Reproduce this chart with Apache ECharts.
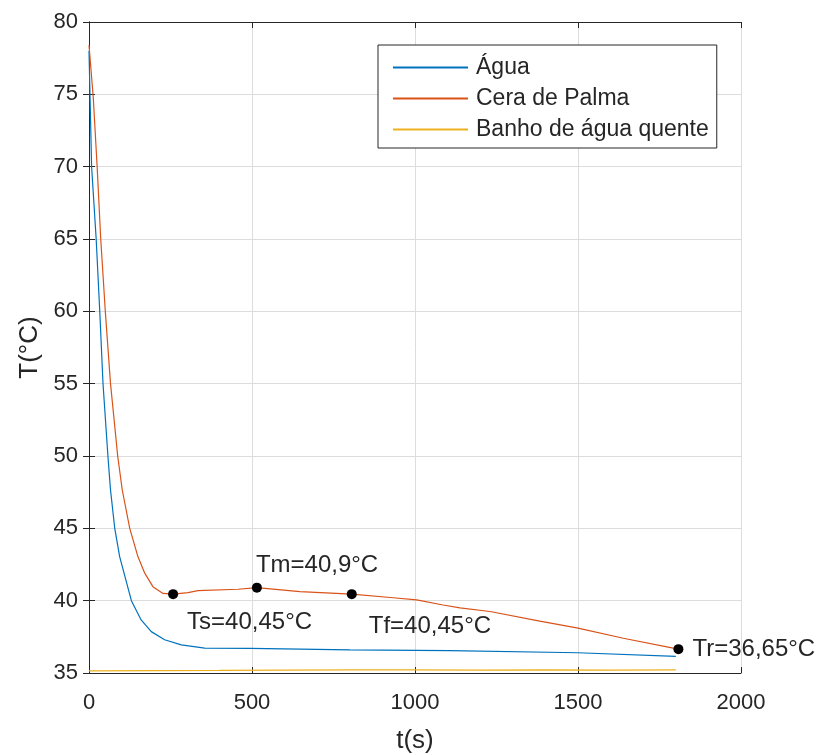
<!DOCTYPE html>
<html>
<head>
<meta charset="utf-8">
<script src="https://cdn.jsdelivr.net/npm/echarts@6/dist/echarts.min.js"></script>
<style>html,body{margin:0;padding:0;background:#fff}#c{width:821px;height:755px}</style>
</head>
<body>
<div id="c"></div>
<script>
// ---- data ----
const seriesNames = ['Água', 'Cera de Palma', 'Banho de água quente'];
const tAgua = [0, 3, 8, 22, 33, 43, 58, 66, 79, 94, 130, 160, 191, 232, 283, 355, 494, 800, 1107, 1500, 1800];
const TAgua = [78.0, 75.0, 70.0, 65.0, 60.0, 55.0, 50.0, 47.65, 45.0, 43.05, 40.0, 38.67, 37.86, 37.3, 36.94, 36.72, 36.7, 36.6, 36.55, 36.4, 36.15];
const tCera = [0, 13, 25, 36, 50, 66, 88, 102, 125, 150, 171, 196, 227, 258, 304, 334, 457, 515, 647, 806, 933, 1005, 1086, 1138, 1230, 1383, 1500, 1639, 1792, 1808];
const TCera = [78.4, 74.8, 70.0, 65.0, 60.0, 55.0, 50.0, 47.65, 45.0, 43.05, 41.9, 40.97, 40.5, 40.45, 40.56, 40.7, 40.79, 40.9, 40.63, 40.45, 40.2, 40.06, 39.7, 39.5, 39.25, 38.58, 38.1, 37.4, 36.72, 36.65];
const tBanho = [0, 200, 400, 600, 800, 1000, 1200, 1400, 1600, 1800];
const TBanho = [35.15, 35.17, 35.18, 35.2, 35.22, 35.22, 35.2, 35.22, 35.2, 35.22];
const pointNames = ['Ts=40,45°C', 'Tm=40,9°C', 'Tf=40,45°C', 'Tr=36,65°C'];
const pointT = [258, 515, 806, 1808];
const pointV = [40.45, 40.9, 40.45, 36.65];
const xTicks = [0, 500, 1000, 1500, 2000];
const yTicks = [35, 40, 45, 50, 55, 60, 65, 70, 75, 80];

const pair = (a, b) => a.map((v, i) => [v, b[i]]);
const font = 'Liberation Sans, Arial, Helvetica, sans-serif';
const txt = '#262626';
const labelOffsets = [[4, 28], [-11, -22], [7, 32], [4, 0]];

const chart = echarts.init(document.getElementById('c'), null, {renderer: 'canvas'});
const baseAxis = {
  axisLine: {show: true, lineStyle: {color: txt, width: 1}},
  axisTick: {show: true, inside: true, length: 6, lineStyle: {color: txt}},
};
const colors = ['#0072BD', '#D95319', '#EDB120'];
chart.setOption({
  animation: false,
  backgroundColor: '#fff',
  grid: {left: 89, top: 22, right: 80, bottom: 82, show: false, containLabel: false, outerBoundsMode: 'none'},
  legend: {
    orient: 'vertical', left: 378, top: 45,
    data: seriesNames.map(n => ({name: n, icon: 'rect'})),
    itemWidth: 75, itemHeight: 2, itemGap: 8,
    padding: [11, 8, 7, 15],
    borderColor: txt, borderWidth: 1, backgroundColor: '#fff',
    textStyle: {fontFamily: font, fontSize: 23, color: txt, lineHeight: 23, padding: [0, 0, 0, 3]}
  },
  xAxis: [
    Object.assign({}, baseAxis, {
      type: 'value', min: xTicks[0], max: xTicks[xTicks.length - 1], interval: 500,
      position: 'bottom',
      name: 't(s)', nameLocation: 'middle', nameGap: 55,
      nameTextStyle: {fontFamily: font, fontSize: 26, color: txt},
      axisLabel: {fontFamily: font, fontSize: 22, color: txt, margin: 19, formatter: v => String(v)},
      splitLine: {show: true, lineStyle: {color: '#dcdcdc', width: 1}}
    }),
    Object.assign({}, baseAxis, {
      type: 'value', min: 0, max: 2000, interval: 500, position: 'top',
      axisLabel: {show: false}, splitLine: {show: false}
    })
  ],
  yAxis: [
    Object.assign({}, baseAxis, {
      type: 'value', min: yTicks[0], max: yTicks[yTicks.length - 1], interval: 5,
      position: 'left',
      name: 'T(°C)', nameLocation: 'middle', nameGap: 46,
      nameTextStyle: {fontFamily: font, fontSize: 26, color: txt},
      axisLabel: {fontFamily: font, fontSize: 22, color: txt, margin: 11, formatter: v => String(v)},
      splitLine: {show: true, lineStyle: {color: '#dcdcdc', width: 1}}
    }),
    Object.assign({}, baseAxis, {
      type: 'value', min: 35, max: 80, interval: 5, position: 'right',
      axisLabel: {show: false}, splitLine: {show: false}
    })
  ],
  series: [
    {name: seriesNames[0], type: 'line', data: pair(tAgua, TAgua), symbol: 'none',
     lineStyle: {color: colors[0], width: 1.2}, itemStyle: {color: colors[0]}, z: 3},
    {name: seriesNames[1], type: 'line', data: pair(tCera, TCera), symbol: 'none',
     lineStyle: {color: colors[1], width: 1.2}, itemStyle: {color: colors[1]}, z: 3},
    {name: seriesNames[2], type: 'line', data: pair(tBanho, TBanho), symbol: 'none',
     lineStyle: {color: colors[2], width: 1.2}, itemStyle: {color: colors[2]}, z: 3},
    {type: 'scatter', symbolSize: 10, z: 5,
     itemStyle: {color: '#000', opacity: 1},
     emphasis: {disabled: true},
     data: pointT.map((t, i) => ({
       value: [t, pointV[i]],
       label: {show: true, position: 'right', offset: labelOffsets[i], formatter: pointNames[i],
               fontFamily: font, fontSize: 24, color: txt}
     }))}
  ]
});
</script>
</body>
</html>
